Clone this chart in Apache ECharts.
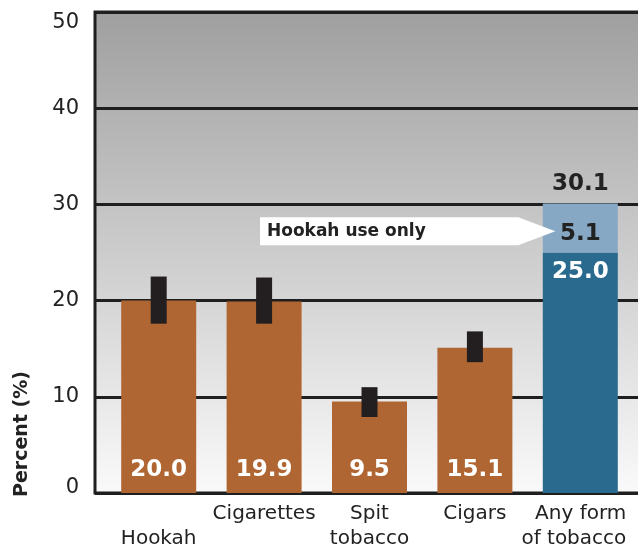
<!DOCTYPE html>
<html>
<head>
<meta charset="utf-8">
<script src="https://cdn.jsdelivr.net/npm/echarts@6/dist/echarts.min.js"></script>
<style>
  html, body { margin: 0; padding: 0; background: #fff; }
  #chart { width: 638px; height: 546px; }
</style>
</head>
<body>
<div id="chart"></div>
<script>
// data
const categories = ['Hookah', 'Cigarettes', 'Spit\ntobacco', 'Cigars', 'Any form\nof tobacco'];
const productValues = [20.0, 19.9, 9.5, 15.1, null];
const anyOtherValues = [null, null, null, null, 25.0];
const hookahOnlyValues = [null, null, null, null, 5.1];
const anyTotalValues = [null, null, null, null, 30.1];
const ciLow = [17.6, 17.6, 7.9, 13.6, null];
const ciHigh = [22.5, 22.4, 11.0, 16.8, null];
const yMin = 0, yMax = 50, yStep = 10;

const FONT = 'DejaVu Sans';
const INK = '#222222';
const ORANGE = '#b06632';
const DARK_BLUE = '#2b6a8f';
const LIGHT_BLUE = '#87a8c4';

const chart = echarts.init(document.getElementById('chart'));

const ciData = categories
  .map((c, i) => (ciLow[i] == null ? null : [i, ciLow[i], ciHigh[i]]))
  .filter(d => d);

const valueLabel = (color, position, distance) => ({
  show: true,
  position,
  distance,
  color,
  fontFamily: FONT,
  fontWeight: 'bold',
  fontSize: 23,
  formatter: p => Number(p.value).toFixed(1),
});

const tickText = {color: INK, fontFamily: FONT, fontSize: 21};
const catText = {color: INK, fontFamily: FONT, fontSize: 20, lineHeight: 25};

const option = {
  animation: false,
  grid: [
    {
      // background + y axis
      left: 95, right: -6, top: 12, bottom: 53,
      outerBoundsMode: 'none',
      containLabel: false,
      show: true,
      backgroundColor: new echarts.graphic.LinearGradient(0, 0, 0, 1, [
        {offset: 0, color: '#9f9f9f'},
        {offset: 1, color: '#fafafa'},
      ]),
      borderColor: '#1f1f1f',
      borderWidth: 3,
    },
    {
      // bars
      left: 106, width: 527, top: 12, bottom: 53,
      outerBoundsMode: 'none',
      containLabel: false,
    },
  ],
  xAxis: [
    {gridIndex: 0, type: 'value', show: false},
    {
      gridIndex: 1,
      type: 'category',
      data: categories,
      axisLine: {show: false},
      axisTick: {show: false},
      axisLabel: Object.assign({
        interval: 0,
        margin: 8,
        formatter: v => {
          if (v === 'Hookah') return '\n' + v;
          // last label sits flush right, nudged left of the bar centre
          if (v.startsWith('Any')) return v.split('\n').map(s => '{r|' + s + '}{s| }').join('\n');
          return v;
        },
        rich: {
          r: Object.assign({width: 110, align: 'right'}, catText),
          s: Object.assign({width: 18, align: 'right'}, catText),
        },
      }, catText),
    },
  ],
  yAxis: [
    {
      gridIndex: 0,
      type: 'value',
      min: yMin,
      max: yMax,
      interval: yStep,
      axisLine: {show: false},
      axisTick: {show: false},
      axisLabel: Object.assign({
        margin: 16,
        formatter: v => {
          if (v === yMin) return '{lo|' + v + '}';
          if (v === yMax) return '{hi|' + v + '}';
          return String(v);
        },
        rich: {
          lo: Object.assign({padding: [0, 0, 10, 0]}, tickText),
          hi: Object.assign({padding: [22, 0, 0, 0]}, tickText),
        },
      }, tickText),
      splitLine: {lineStyle: {color: '#1f1f1f', width: 3}},
    },
    {gridIndex: 1, type: 'value', min: yMin, max: yMax, show: false},
  ],
  series: [
    {
      name: 'Product',
      type: 'bar',
      xAxisIndex: 1, yAxisIndex: 1,
      data: productValues,
      barWidth: 75,
      barGap: '-100%',
      itemStyle: {color: ORANGE},
      label: valueLabel('#ffffff', 'insideBottom', 11),
    },
    {
      name: 'Any other',
      type: 'bar',
      stack: 'any',
      xAxisIndex: 1, yAxisIndex: 1,
      data: anyOtherValues,
      barWidth: 75,
      barGap: '-100%',
      itemStyle: {color: DARK_BLUE},
      label: valueLabel('#ffffff', 'insideTop', 8),
    },
    {
      name: 'Hookah only',
      type: 'bar',
      stack: 'any',
      xAxisIndex: 1, yAxisIndex: 1,
      data: hookahOnlyValues,
      barWidth: 75,
      barGap: '-100%',
      itemStyle: {color: LIGHT_BLUE},
      label: Object.assign(valueLabel(INK, 'inside', 0), {offset: [0, 6]}),
    },
    {
      name: 'Total',
      type: 'bar',
      xAxisIndex: 1, yAxisIndex: 1,
      data: anyTotalValues,
      barWidth: 75,
      barGap: '-100%',
      itemStyle: {color: 'rgba(0,0,0,0)'},
      label: valueLabel(INK, 'top', 8),
      silent: true,
    },
    {
      name: 'CI',
      type: 'custom',
      xAxisIndex: 1, yAxisIndex: 1,
      data: ciData,
      z: 5,
      renderItem: (params, api) => {
        const lo = api.coord([api.value(0), api.value(1)]);
        const hi = api.coord([api.value(0), api.value(2)]);
        const w = 16;
        return {
          type: 'rect',
          shape: {x: lo[0] - w / 2, y: hi[1], width: w, height: lo[1] - hi[1]},
          style: {fill: '#231f20'},
        };
      },
    },
  ],
};

chart.setOption(option);

// annotations: y axis title and "Hookah use only" arrow pointing at the light blue segment
const tip = chart.convertToPixel({xAxisIndex: 1, yAxisIndex: 1}, [4, 27.2]);
const tipX = tip[0] - 25, tipY = tip[1];
const arrowLeft = 260, arrowHalf = 14, headLen = 37;

chart.setOption({
  graphic: [
    {
      type: 'text',
      x: 22, y: 434,
      rotation: Math.PI / 2,
      style: {
        text: 'Percent (%)',
        fill: INK,
        font: 'bold 19px "' + FONT + '"',
        align: 'center',
        verticalAlign: 'middle',
      },
    },
    {
      type: 'polygon',
      z: 10,
      shape: {
        points: [
          [arrowLeft, tipY - arrowHalf],
          [tipX - headLen, tipY - arrowHalf],
          [tipX, tipY],
          [tipX - headLen, tipY + arrowHalf],
          [arrowLeft, tipY + arrowHalf],
        ],
      },
      style: {fill: '#ffffff'},
    },
    {
      type: 'text',
      z: 11,
      x: arrowLeft + 7, y: tipY,
      style: {
        text: 'Hookah use only',
        fill: INK,
        font: 'bold 17px "' + FONT + '"',
        align: 'left',
        verticalAlign: 'middle',
      },
    },
  ],
});
</script>
</body>
</html>
